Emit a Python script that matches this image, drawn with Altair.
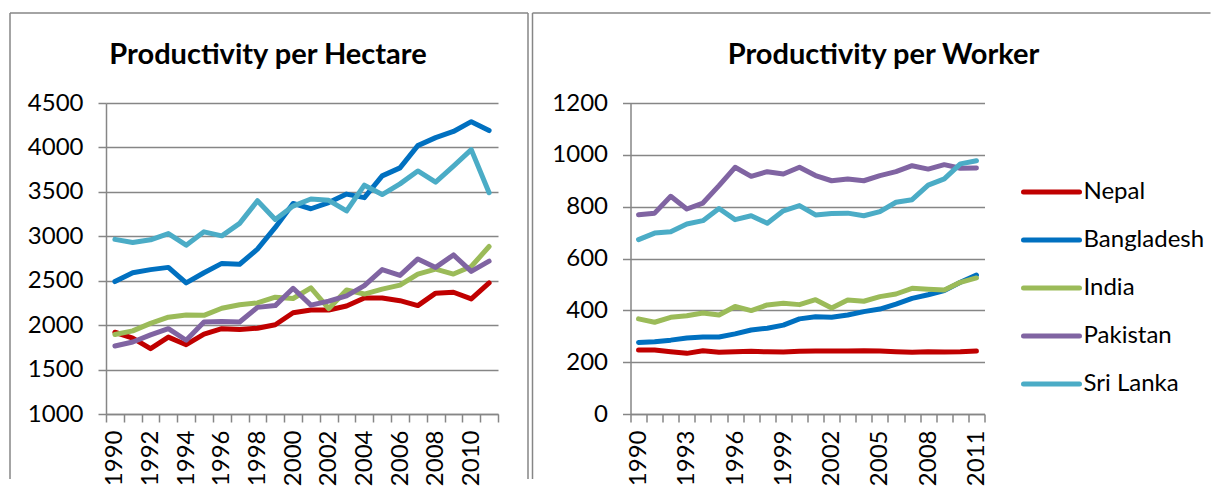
import altair as alt
import pandas as pd

years = list(range(1990, 2012))
countries = ["Nepal", "Bangladesh", "India", "Pakistan", "Sri Lanka"]
colors = ["#C00000", "#0070C0", "#9BBB59", "#8064A2", "#4BACC6"]

# Productivity per hectare
ha_nepal = [1920, 1855, 1735, 1865, 1780, 1900, 1960, 1950, 1965, 2005, 2140, 2170,
            2170, 2215, 2305, 2305, 2275, 2220, 2360, 2370, 2295, 2475]
ha_bangladesh = [2490, 2590, 2625, 2650, 2475, 2590, 2695, 2685, 2855, 3100, 3370, 3310,
                 3380, 3475, 3435, 3680, 3770, 4020, 4110, 4180, 4290, 4190]
ha_india = [1895, 1935, 2020, 2090, 2115, 2110, 2190, 2230, 2250, 2315, 2300, 2420,
            2185, 2395, 2350, 2405, 2450, 2575, 2630, 2575, 2660, 2885]
ha_pakistan = [1765, 1810, 1890, 1960, 1830, 2035, 2040, 2035, 2200, 2220, 2415, 2225,
               2270, 2330, 2445, 2625, 2560, 2745, 2650, 2790, 2605, 2720]
ha_srilanka = [2965, 2930, 2960, 3030, 2900, 3050, 3005, 3145, 3400, 3190, 3340, 3420,
               3405, 3285, 3575, 3470, 3590, 3735, 3610, 3790, 3975, 3490]

# Productivity per worker
wk_nepal = [247, 247, 240, 234, 244, 238, 240, 242, 240, 239, 242, 243,
            243, 243, 244, 243, 240, 238, 240, 239, 240, 243]
wk_bangladesh = [276, 279, 285, 293, 297, 297, 309, 324, 331, 343, 367, 375,
                 373, 382, 395, 405, 424, 446, 460, 476, 508, 536]
wk_india = [367, 354, 373, 379, 390, 382, 415, 399, 421, 427, 422, 441,
            409, 440, 435, 453, 463, 485, 481, 478, 508, 525]
wk_pakistan = [769, 775, 840, 791, 814, 881, 952, 917, 935, 926, 952, 920,
               900, 907, 900, 920, 935, 958, 945, 962, 948, 949]
wk_srilanka = [673, 698, 703, 733, 746, 793, 750, 765, 736, 784, 804, 768,
               774, 775, 765, 781, 817, 827, 883, 907, 965, 977]

ha_ticks = [1000, 1500, 2000, 2500, 3000, 3500, 4000, 4500]
wk_ticks = [0, 200, 400, 600, 800, 1000, 1200]


def long_df(series):
    rows = []
    for c, vals in zip(countries, series):
        for y, v in zip(years, vals):
            rows.append({"Country": c, "Year": y, "Value": v})
    return pd.DataFrame(rows)


df_ha = long_df([ha_nepal, ha_bangladesh, ha_india, ha_pakistan, ha_srilanka])
df_wk = long_df([wk_nepal, wk_bangladesh, wk_india, wk_pakistan, wk_srilanka])
one = pd.DataFrame({"k": [0]})
leg_df = pd.DataFrame({"Country": countries})

FONT = "Lato"
GRAY = "#868686"
color_scale = alt.Scale(domain=countries, range=colors)


def line_layer(df, domain, ticks, label_every):
    return alt.Chart(df).mark_line(strokeWidth=5, strokeCap="round", strokeJoin="round").encode(
        x=alt.X("Year:O", sort=years,
                scale=alt.Scale(type="band", paddingInner=0, paddingOuter=0),
                axis=alt.Axis(title=None, tickBand="extent", labelAngle=270, grid=False,
                              labelPadding=8,
                              labelExpr=f"(datum.value - 1990) % {label_every} == 0 ? datum.label : ''")),
        y=alt.Y("Value:Q", scale=alt.Scale(domain=domain, nice=False, zero=False),
                axis=alt.Axis(title=None, values=ticks, grid=True, format="d", labelPadding=15)),
        color=alt.Color("Country:N", scale=color_scale, legend=None),
    )


def border(xl, xr, top, bottom, right_side=True):
    parts = [
        alt.Chart(one).mark_rule(color=GRAY, strokeWidth=1.5).encode(
            x=alt.value(xl), y=alt.value(top), y2=alt.value(bottom)),
        alt.Chart(one).mark_rule(color=GRAY, strokeWidth=1.5).encode(
            x=alt.value(xl), x2=alt.value(xr), y=alt.value(top)),
    ]
    if right_side:
        parts.append(alt.Chart(one).mark_rule(color=GRAY, strokeWidth=1.5).encode(
            x=alt.value(xr), y=alt.value(top), y2=alt.value(bottom)))
    return parts


def title_layer(text, xc):
    return alt.Chart(one).mark_text(font=FONT, fontSize=29, fontWeight="bold", color="black",
                                    align="center", baseline="middle").encode(
        x=alt.value(xc), y=alt.value(-48), text=alt.value(text))


left = alt.layer(
    *border(-96, 422, -90, 376),
    title_layer("Productivity per Hectare", 162),
    line_layer(df_ha, [1000, 4500], ha_ticks, 2),
).properties(width=392, height=311)

leg_y = alt.Y("Country:N", scale=alt.Scale(type="point", domain=countries, range=[89, 281], padding=0),
              axis=None)
leg_rules = alt.Chart(leg_df).mark_rule(strokeWidth=5, strokeCap="round").encode(
    x=alt.value(393), x2=alt.value(449), y=leg_y,
    color=alt.Color("Country:N", scale=color_scale, legend=None))
leg_text = alt.Chart(leg_df).mark_text(font=FONT, fontSize=24, color="black", align="left",
                                       baseline="middle").encode(
    x=alt.value(453), y=leg_y, text="Country:N")

right = alt.layer(
    *border(-98, 580, -90, 376, right_side=False),
    title_layer("Productivity per Worker", 253),
    line_layer(df_wk, [0, 1200], wk_ticks, 3),
    leg_rules,
    leg_text,
).resolve_scale(y="independent").properties(width=354, height=311)

chart = alt.hconcat(left, right, spacing=2.5).properties(
    padding={"left": 1, "top": 4, "right": 0, "bottom": 0}
).configure_view(stroke=None).configure_axis(
    domainColor=GRAY, domainWidth=1.5, tickColor=GRAY, tickWidth=1.5, tickSize=8,
    gridColor=GRAY, gridWidth=1.5, labelFont=FONT, labelFontSize=24, labelColor="black",
)

chart.save("out.html", embed_options={"renderer": "svg", "actions": False})
